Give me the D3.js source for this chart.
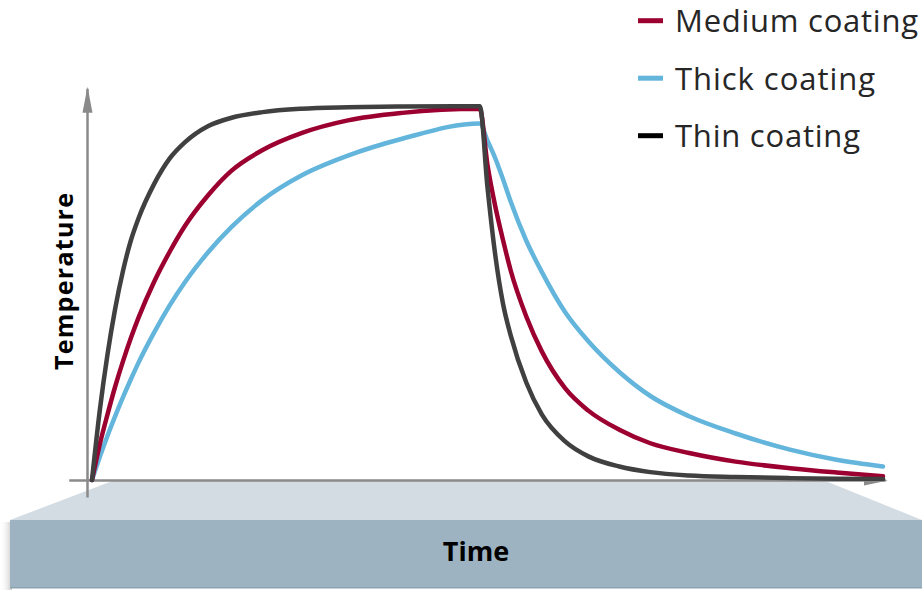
<!DOCTYPE html>
<html>
<head>
<meta charset="utf-8">
<script src="https://cdn.jsdelivr.net/npm/d3@7/dist/d3.min.js"></script>
<style>
  html, body { margin: 0; padding: 0; background: #ffffff; }
  svg { display: block; }
</style>
</head>
<body>
<svg id="chart" width="922" height="590"></svg>
<script>
// ---- Data ----
const times = [0, 1, 2, 3, 4, 5, 6, 8, 10, 12, 15, 18, 22, 27, 33, 40, 50,
               51, 52, 53, 54, 56, 58, 61, 64, 68, 72, 77, 83, 90, 96, 102];

const thinValues   = [0, 18.5, 33.5, 45.8, 55.8, 63.8, 69.8, 78.9, 85.7, 90.1, 94.4, 96.6, 98.1, 99.0, 99.4, 99.6, 99.7,
                      78, 60, 47, 38.5, 26, 17.5, 10.3, 6.3, 3.6, 2.1, 1.2, 0.8, 0.5, 0.35, 0.3];
const mediumValues = [0, 9.5, 17.5, 25, 31.7, 37.8, 43.3, 52.8, 60.8, 67.8, 76.0, 82.5, 88.0, 92.5, 95.9, 97.9, 99.0,
                      84, 73, 64, 55.8, 43.6, 34.3, 24.5, 18.5, 13.4, 9.8, 7.2, 4.9, 3.15, 2.0, 1.0];
const thickValues  = [0, 6.1, 11.8, 17.1, 22.1, 26.8, 31.3, 39.3, 46.5, 52.8, 60.8, 67.5, 74.7, 81.2, 86.5, 91.0, 95.1,
                      90.5, 85.8, 80.2, 74.2, 63.8, 55.5, 44.8, 37, 28.8, 22.4, 17.0, 12.4, 8.1, 5.4, 3.6];

const seriesNames  = ["Medium coating", "Thick coating", "Thin coating"];
const xLabel = "Time";
const yLabel = "Temperature";

// ---- Setup ----
const svg = d3.select("#chart");

const x = d3.scaleLinear().domain([0, 102]).range([92, 883]);
const y = d3.scaleLinear().domain([0, 100]).range([480, 105]);

const defs = svg.append("defs");
const shadow = defs.append("linearGradient").attr("id", "slabShadow")
  .attr("x1", "0").attr("x2", "1").attr("y1", "0").attr("y2", "0");
shadow.append("stop").attr("offset", "0%").attr("stop-color", "#ffffff").attr("stop-opacity", 0);
shadow.append("stop").attr("offset", "100%").attr("stop-color", "#c9c9c9").attr("stop-opacity", 1);

defs.append("marker").attr("id", "arrowY")
  .attr("viewBox", "0 0 26 12").attr("refX", 24).attr("refY", 6)
  .attr("markerWidth", 26).attr("markerHeight", 12)
  .attr("markerUnits", "userSpaceOnUse").attr("orient", "auto")
  .append("path").attr("d", "M0,1 L26,6 L0,11 Z").attr("fill", "#8a8a8a");
defs.append("marker").attr("id", "arrowX")
  .attr("viewBox", "0 0 24 12").attr("refX", 22).attr("refY", 6)
  .attr("markerWidth", 24).attr("markerHeight", 12)
  .attr("markerUnits", "userSpaceOnUse").attr("orient", "auto")
  .append("path").attr("d", "M0,1 L24,6 L0,11 Z").attr("fill", "#8a8a8a");

// ---- Slab (base under the time axis) ----
svg.append("rect").attr("x", 0).attr("y", 522).attr("width", 12).attr("height", 68)
  .attr("fill", "url(#slabShadow)");
svg.append("polygon")
  .attr("points", [[115, 480], [823, 480], [922, 520], [10, 520]].map(p => p.join(",")).join(" "))
  .attr("fill", "#d4dce3");
svg.append("rect").attr("x", 10).attr("y", 520).attr("width", 912).attr("height", 68)
  .attr("fill", "#9db3c1");
svg.append("rect").attr("x", 10).attr("y", 587).attr("width", 912).attr("height", 1.5)
  .attr("fill", "#8ea3b0");

svg.append("text")
  .attr("x", 476).attr("y", 561)
  .attr("text-anchor", "middle")
  .attr("font-family", "'Open Sans', sans-serif")
  .attr("font-weight", 700).attr("font-size", 27)
  .attr("fill", "#000")
  .text(xLabel);

// ---- Axes ----
const xAxisScale = x.copy().domain([-3, 102.3]).range([x(-3), x(102.3)]);
const yAxisScale = y.copy().domain([-4.5, 104.5]).range([y(-4.5), y(104.5)]);

const gx = svg.append("g").attr("transform", `translate(0, ${y(0)})`)
  .call(d3.axisBottom(xAxisScale).ticks(0).tickSizeOuter(0));
gx.select(".domain").attr("stroke", "#8a8a8a").attr("stroke-width", 2.5)
  .attr("marker-end", "url(#arrowX)");

const gy = svg.append("g").attr("transform", `translate(87, 0)`)
  .call(d3.axisLeft(yAxisScale).ticks(0).tickSizeOuter(0));
gy.select(".domain").attr("stroke", "#8a8a8a").attr("stroke-width", 2.5)
  .attr("marker-end", "url(#arrowY)");

svg.append("text")
  .attr("transform", "translate(73, 281.5) rotate(-90)")
  .attr("text-anchor", "middle")
  .attr("font-family", "'Open Sans', sans-serif")
  .attr("font-weight", 700).attr("font-size", 25)
  .attr("textLength", 177).attr("lengthAdjust", "spacing")
  .attr("fill", "#000")
  .text(yLabel);

// ---- Lines ----
const line = d3.line()
  .x(d => x(d[0]))
  .y(d => y(d[1]))
  .curve(d3.curveMonotoneX);

const series = [
  { name: seriesNames[1], values: thickValues,  color: "#63b5dc" },
  { name: seriesNames[0], values: mediumValues, color: "#9b0031" },
  { name: seriesNames[2], values: thinValues,   color: "#404040" }
];

svg.append("g").selectAll("path")
  .data(series)
  .join("path")
  .attr("d", s => line(times.map((t, i) => [t, s.values[i]])))
  .attr("fill", "none")
  .attr("stroke", s => s.color)
  .attr("stroke-width", 4.5)
  .attr("stroke-linecap", "round")
  .attr("stroke-linejoin", "round");

// ---- Legend ----
const legendItems = [
  { name: seriesNames[0], color: "#9b0031", width: 243 },
  { name: seriesNames[1], color: "#63b5dc", width: 200 },
  { name: seriesNames[2], color: "#000000", width: 185 }
];
const lg = svg.append("g").attr("class", "legend");
const item = lg.selectAll("g").data(legendItems).join("g")
  .attr("transform", (d, i) => `translate(0, ${20.7 + i * 57.5})`);
item.append("line")
  .attr("x1", 638).attr("x2", 663).attr("y1", 0).attr("y2", 0)
  .attr("stroke", d => d.color).attr("stroke-width", 5);
item.append("text")
  .attr("x", 675).attr("y", 11.5)
  .attr("font-family", "'Open Sans', sans-serif")
  .attr("font-size", 31)
  .attr("textLength", d => d.width).attr("lengthAdjust", "spacing")
  .attr("fill", "#262626")
  .text(d => d.name);
</script>
</body>
</html>
